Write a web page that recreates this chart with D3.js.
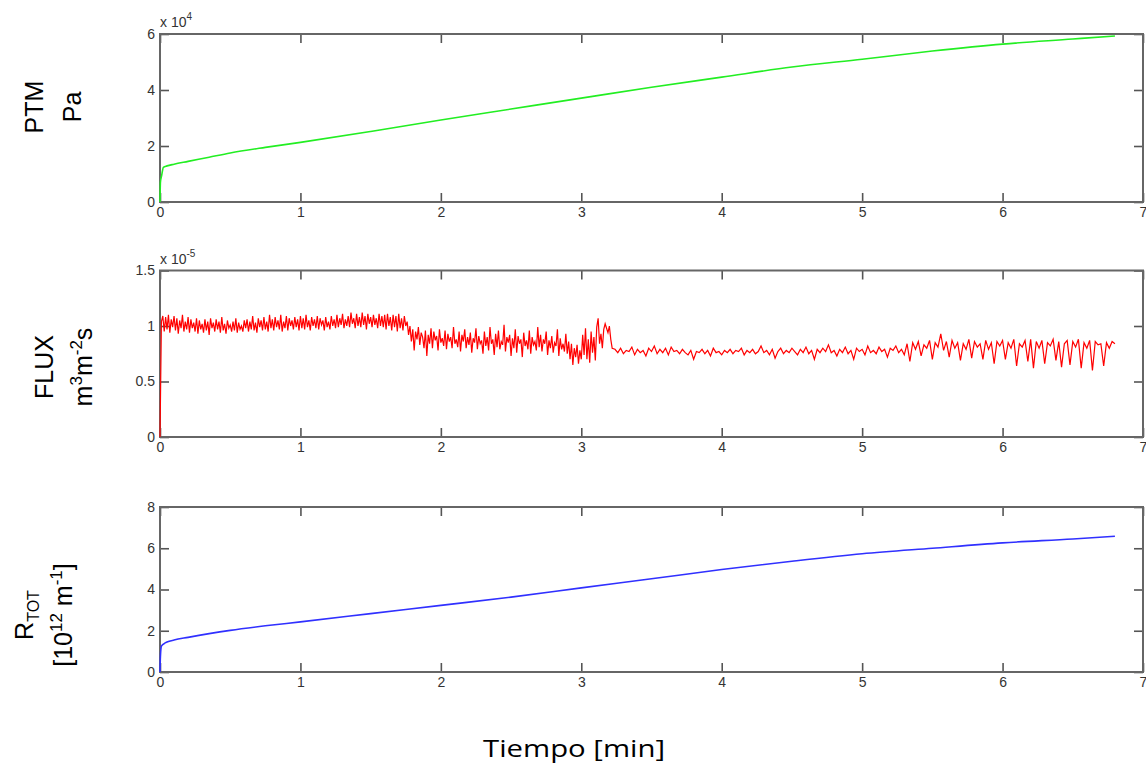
<!DOCTYPE html>
<html>
<head>
<meta charset="utf-8">
<script src="https://cdn.jsdelivr.net/npm/d3@7"></script>
<style>
  body { margin: 0; background: #fff; }
  svg { display: block; }
</style>
</head>
<body>
<div id="chart"></div>
<script>
// tiempo común [min]
const xTicks = [0, 1, 2, 3, 4, 5, 6, 7];

// PTM [x10^4 Pa]
const ptmTime   = [0, 0.003, 0.012, 0.024, 0.05, 0.1, 0.2, 0.35, 0.5, 0.75, 1, 1.5, 2, 2.5, 3, 3.5, 4, 4.5, 5, 5.5, 6, 6.5, 6.8];
const ptmValues = [0, 0.7, 0.95, 1.24, 1.29, 1.35, 1.45, 1.6, 1.75, 1.95, 2.13, 2.52, 2.93, 3.32, 3.71, 4.1, 4.46, 4.82, 5.1, 5.39, 5.64, 5.82, 5.93];
const ptmTicks  = [0, 2, 4, 6];

// FLUX [x10^-5 m3 m-2 s], en centésimas
// tramo 1: 0 – 3.22 min, una muestra cada 0.01 min
const fluxStep1 = 0.01;
const fluxValues1 = [
  0,
  104, 109, 95, 108, 97, 110, 94, 106, 99, 109, 96, 107, 93, 105, 98, 110, 95, 104, 97, 108,
  94, 106, 98, 103, 95, 107, 93, 105, 97, 102, 94, 106, 96, 104, 92, 107, 98, 103, 95, 106,
  97, 104, 94, 108, 96, 102, 93, 105, 98, 101, 95, 104, 96, 107, 94, 103, 97, 100, 95, 105,
  98, 106, 95, 104, 97, 109, 96, 103, 94, 107, 99, 105, 96, 108, 97, 104, 95, 110, 98, 106,
  96, 108, 99, 105, 97, 110, 95, 104, 98, 109, 96, 107, 100, 105, 97, 108, 99, 106, 96, 109,
  98, 107, 97, 110, 99, 105, 96, 108, 100, 106, 98, 109, 97, 107, 101, 105, 96, 108, 99, 104,
  97, 109, 100, 106, 98, 110, 99, 107, 101, 111, 98, 106, 100, 109, 99, 112, 102, 107, 98, 111,
  100, 108, 99, 112, 101, 109, 97, 111, 102, 108, 99, 110, 101, 107, 98, 111, 100, 109, 99, 110,
  97, 111, 100, 108, 96, 110, 99, 109, 95, 111, 98, 107, 96, 109, 100,
  104, 92, 100, 86, 97, 78, 95, 88, 99, 83, 94, 90, 80, 96, 73,
  92, 84, 98, 80, 95, 87, 91, 78, 97, 85, 89, 82, 96, 79, 93, 86, 90, 80, 99, 84,
  88, 81, 95, 77, 92, 86, 97, 80, 90, 83, 94, 76, 89, 85, 98, 79, 91, 84, 87, 75,
  95, 82, 90, 78, 99, 84, 88, 74, 93, 81, 96, 79, 86, 83, 101, 77, 90, 85, 92, 73,
  89, 80, 97, 76, 91, 84, 88, 72, 94, 82, 87, 79, 96, 75, 90, 83, 86, 78, 99, 81,
  92, 77, 88, 84, 95, 74, 87, 80, 91, 76, 85, 82, 97, 73, 89, 79, 84, 77, 93, 75,
  86, 70, 84, 65, 80, 72, 83, 66, 78, 70,
  92, 74, 98, 70, 88, 67, 95, 76, 90, 69, 99, 107, 84, 93, 80, 97, 102, 98, 94, 100, 88, 80
];
// tramo 2: 3.24 – 6.80 min, una muestra cada 0.02 min
const fluxStart2 = 3.24;
const fluxStep2 = 0.02;
const fluxValues2 = [
  79, 76, 80, 75, 78, 77, 81, 74, 79, 76, 78, 73, 80, 77, 82, 75, 79, 76, 80, 74,
  81, 77, 78, 75, 79, 76, 74, 78, 70, 77, 76, 79, 75, 78, 73, 80, 76, 77, 74, 78,
  76, 79, 75, 78, 77, 80, 74, 78, 76, 79, 75, 77, 82, 76, 78, 74, 79, 71, 77, 80,
  75, 78, 76, 80, 77, 74, 79, 76, 81, 75, 78, 70, 79, 76, 80, 77, 83, 76, 78, 73,
  79, 76, 81, 75, 78, 70, 80, 77, 79, 74, 82, 76, 78, 75, 81, 77, 79, 72, 80, 78, 82, 76, 79, 74,
  84, 68, 85, 79, 86, 73, 83, 80, 87, 70, 85, 81, 93, 78, 86,
  72, 87, 80, 85, 69, 84, 79, 88, 71, 86, 81, 84, 70, 87, 79,
  85, 66, 86, 82, 87, 70, 85, 80, 88, 64, 84, 81, 87, 68, 88,
  62, 86, 80, 87, 66, 85, 82, 88, 69, 86, 63, 84, 87, 65, 86,
  81, 88, 62, 85, 80, 87, 60, 86, 83, 84, 64, 85, 80, 86, 84
];
const fluxTicks = [0, 0.5, 1, 1.5];

// R_TOT [10^12 m^-1]
const rtotTime   = [0, 0.003, 0.01, 0.03, 0.05, 0.1, 0.2, 0.35, 0.5, 0.75, 1, 1.5, 2, 2.5, 3, 3.5, 4, 4.5, 5, 5.5, 6, 6.5, 6.8];
const rtotValues = [0, 0.75, 1.25, 1.38, 1.45, 1.55, 1.68, 1.86, 2.02, 2.24, 2.43, 2.83, 3.23, 3.63, 4.08, 4.52, 4.97, 5.37, 5.73, 6.0, 6.26, 6.45, 6.58];
const rtotTicks  = [0, 2, 4, 6, 8];

const width = 1146, height = 768;
const left = 160, right = 1143;

const svg = d3.select('#chart')
  .append('svg')
  .attr('width', width)
  .attr('height', height)
  .style('font-family', '"Liberation Sans", Arial, sans-serif');

const x = d3.scaleLinear().domain([0, 7]).range([left, right]);

const panel = (cfg) => {
  const y = d3.scaleLinear().domain(cfg.domain).range([cfg.bottom, cfg.top]);
  const g = svg.append('g');

  const axes = [
    [d3.axisBottom(x).tickValues(xTicks).tickFormat(d3.format('d')), `translate(0,${cfg.bottom})`, true],
    [d3.axisTop(x).tickValues(xTicks).tickFormat(''), `translate(0,${cfg.top})`, false],
    [d3.axisLeft(y).tickValues(cfg.ticks).tickFormat(d => d), `translate(${left},0)`, true],
    [d3.axisRight(y).tickValues(cfg.ticks).tickFormat(''), `translate(${right},0)`, false]
  ];
  axes.forEach(([ax, tr, lab]) => {
    const a = g.append('g')
      .attr('transform', tr)
      .call(ax.tickSizeInner(-9).tickSizeOuter(0).tickPadding(lab ? 5 : 0));
    a.select('.domain').remove();
    a.selectAll('line').attr('stroke', '#555').attr('stroke-width', 1.6);
    a.selectAll('text').attr('fill', '#333').style('font-size', '14px');
  });
  g.selectAll('.tick text').filter(function () { return this.textContent === ''; }).remove();

  g.append('rect')
    .attr('x', left).attr('y', cfg.top)
    .attr('width', right - left).attr('height', cfg.bottom - cfg.top)
    .attr('fill', 'none').attr('stroke', '#666').attr('stroke-width', 2);

  const line = d3.line().x(d => x(d[0])).y(d => y(d[1]));
  if (cfg.curve) line.curve(cfg.curve);
  g.append('path')
    .datum(cfg.data)
    .attr('d', line)
    .attr('fill', 'none')
    .attr('stroke', cfg.color)
    .attr('stroke-width', cfg.lw)
    .attr('stroke-linejoin', 'miter');

  if (cfg.exp) {
    const t = g.append('text')
      .attr('x', left)
      .attr('y', cfg.top - 7)
      .attr('fill', '#333')
      .style('font-size', '14px');
    t.append('tspan').text('x 10');
    t.append('tspan').attr('dy', -7).style('font-size', '10px').text(cfg.exp);
  }

  // etiqueta del eje y (girada, dos líneas)
  const lab = svg.append('text')
    .attr('transform', `translate(0,${cfg.labelY}) rotate(-90)`)
    .attr('text-anchor', 'middle')
    .attr('fill', '#000')
    .style('font-size', '25px');
  cfg.label(lab);
};

panel({
  top: 34, bottom: 202, domain: [0, 6], ticks: ptmTicks,
  data: ptmTime.map((t, i) => [t, ptmValues[i]]),
  color: '#22ee22', lw: 1.6, exp: '4', labelY: 107,
  curve: d3.curveMonotoneX,
  label: t => {
    t.append('tspan').attr('x', 0).attr('y', 43).text('PTM');
    t.append('tspan').attr('x', 0).attr('y', 81).text('Pa');
  }
});

const fluxData = fluxValues1.map((v, i) => [i * fluxStep1, v / 100])
  .concat(fluxValues2.map((v, i) => [fluxStart2 + i * fluxStep2, v / 100]));

panel({
  top: 270.5, bottom: 437, domain: [0, 1.5], ticks: fluxTicks,
  data: fluxData,
  color: '#ff0000', lw: 1.2, exp: '-5', labelY: 367,
  label: t => {
    t.append('tspan').attr('x', 0).attr('y', 53).text('FLUX');
    const l2 = t.append('tspan').attr('x', 0).attr('y', 92);
    l2.append('tspan').text('m');
    l2.append('tspan').attr('dy', -10).style('font-size', '17px').text('3');
    l2.append('tspan').attr('dy', 10).text('m');
    l2.append('tspan').attr('dy', -10).style('font-size', '17px').text('-2');
    l2.append('tspan').attr('dy', 10).text('s');
  }
});

panel({
  top: 507, bottom: 672, domain: [0, 8], ticks: rtotTicks,
  data: rtotTime.map((t, i) => [t, rtotValues[i]]),
  color: '#3030ff', lw: 1.6, labelY: 615,
  curve: d3.curveMonotoneX,
  label: t => {
    const l1 = t.append('tspan').attr('x', 0).attr('y', 33);
    l1.append('tspan').text('R');
    l1.append('tspan').attr('dy', 6).style('font-size', '16px').text('TOT');
    const l2 = t.append('tspan').attr('x', 0).attr('y', 72);
    l2.append('tspan').text('[10');
    l2.append('tspan').attr('dy', -10).style('font-size', '17px').text('12');
    l2.append('tspan').attr('dy', 10).text(' m');
    l2.append('tspan').attr('dy', -10).style('font-size', '17px').text('-1');
    l2.append('tspan').attr('dy', 10).text(']');
  }
});

svg.append('text')
  .attr('x', 574)
  .attr('y', 757)
  .attr('text-anchor', 'middle')
  .attr('textLength', 182)
  .attr('lengthAdjust', 'spacingAndGlyphs')
  .style('font-family', '"Open Sans", sans-serif')
  .style('font-size', '24px')
  .attr('fill', '#000')
  .text('Tiempo [min]');
</script>
</body>
</html>
